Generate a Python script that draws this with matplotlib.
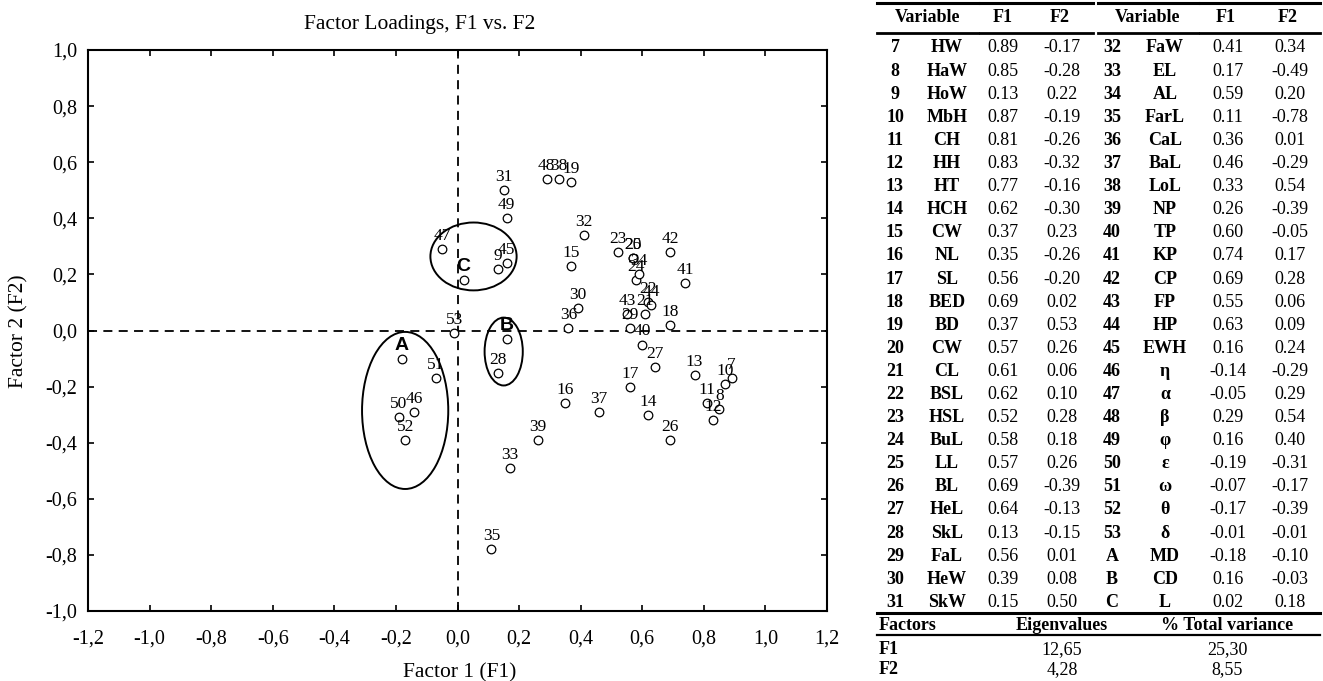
import matplotlib
matplotlib.use('Agg')
import matplotlib.pyplot as plt
from matplotlib.patches import Ellipse
from matplotlib.lines import Line2D

plt.rcParams['font.family'] = ['Liberation Serif', 'DejaVu Serif']

# loadings table, left block (7..31) and right block (32..53, A, B, C)
left_ids = ['7', '8', '9', '10', '11', '12', '13', '14', '15', '16', '17', '18', '19',
            '20', '21', '22', '23', '24', '25', '26', '27', '28', '29', '30', '31']
left_names = ['HW', 'HaW', 'HoW', 'MbH', 'CH', 'HH', 'HT', 'HCH', 'CW', 'NL', 'SL', 'BED', 'BD',
              'CW', 'CL', 'BSL', 'HSL', 'BuL', 'LL', 'BL', 'HeL', 'SkL', 'FaL', 'HeW', 'SkW']
left_f1 = [0.89, 0.85, 0.13, 0.87, 0.81, 0.83, 0.77, 0.62, 0.37, 0.35, 0.56, 0.69, 0.37,
           0.57, 0.61, 0.62, 0.52, 0.58, 0.57, 0.69, 0.64, 0.13, 0.56, 0.39, 0.15]
left_f2 = [-0.17, -0.28, 0.22, -0.19, -0.26, -0.32, -0.16, -0.30, 0.23, -0.26, -0.20, 0.02, 0.53,
           0.26, 0.06, 0.10, 0.28, 0.18, 0.26, -0.39, -0.13, -0.15, 0.01, 0.08, 0.50]

right_ids = ['32', '33', '34', '35', '36', '37', '38', '39', '40', '41', '42', '43', '44',
             '45', '46', '47', '48', '49', '50', '51', '52', '53', 'A', 'B', 'C']
right_names = ['FaW', 'EL', 'AL', 'FarL', 'CaL', 'BaL', 'LoL', 'NP', 'TP', 'KP', 'CP', 'FP', 'HP',
               'EWH', 'η', 'α', 'β', 'φ', 'ε', 'ω', 'θ', 'δ', 'MD', 'CD', 'L']
right_f1 = [0.41, 0.17, 0.59, 0.11, 0.36, 0.46, 0.33, 0.26, 0.60, 0.74, 0.69, 0.55, 0.63,
            0.16, -0.14, -0.05, 0.29, 0.16, -0.19, -0.07, -0.17, -0.01, -0.18, 0.16, 0.02]
right_f2 = [0.34, -0.49, 0.20, -0.78, 0.01, -0.29, 0.54, -0.39, -0.05, 0.17, 0.28, 0.06, 0.09,
            0.24, -0.29, 0.29, 0.54, 0.40, -0.31, -0.17, -0.39, -0.01, -0.10, -0.03, 0.18]

factors = ['F1', 'F2']
eigenvalues = [12.65, 4.28]
total_variance = [25.30, 8.55]

# groups circled on the plot: centre (F1, F2), width, height
group_ids = ['A', 'B', 'C']
group_centres = [(-0.17, -0.285), (0.15, -0.075), (0.052, 0.264)]
group_sizes = [(0.28, 0.56), (0.124, 0.242), (0.28, 0.242)]

W, H = 1323, 681
fig = plt.figure(figsize=(W / 100, H / 100), dpi=100)
ax = fig.add_axes([88 / W, 1 - 611 / H, (827 - 88) / W, (611 - 50) / H])

all_ids = left_ids + right_ids
all_f1 = left_f1 + right_f1
all_f2 = left_f2 + right_f2

ax.axhline(0, color='black', lw=1.3, ls=(0, (5, 3.5)), zorder=1)
ax.axvline(0, color='black', lw=1.3, ls=(0, (5, 3.5)), zorder=1)

ax.plot(all_f1, all_f2, 'o', ms=6.2, mfc='white', mec='black', mew=0.9, zorder=3)
for lab, x, y in zip(all_ids, all_f1, all_f2):
    if lab in group_ids:
        ax.annotate(lab, (x, y), xytext=(0, 6.5), textcoords='offset points',
                    ha='center', va='baseline', fontsize=14, fontweight='bold',
                    family=['Liberation Sans', 'DejaVu Sans'])
    else:
        ax.annotate(lab, (x, y), xytext=(0, 6.5), textcoords='offset points',
                    ha='center', va='baseline', fontsize=12.5)

for (cx, cy), (w, h) in zip(group_centres, group_sizes):
    ax.add_patch(Ellipse((cx, cy), w, h, fill=False, ec='black', lw=1.4, zorder=2))

ax.set_xlim(-1.2, 1.2)
ax.set_ylim(-1.0, 1.0)
xt = [-1.2 + 0.2 * i for i in range(13)]
yt = [-1.0 + 0.2 * i for i in range(11)]
ax.set_xticks(xt)
ax.set_yticks(yt)
ax.set_xticklabels([f'{v:.1f}'.replace('.', ',').replace('-0,0', '0,0') for v in xt])
ax.set_yticklabels([f'{v:.1f}'.replace('.', ',').replace('-0,0', '0,0') for v in yt])
ax.tick_params(direction='in', top=True, right=True, length=4, width=1.2, labelsize=14.5)
ax.tick_params(axis='x', pad=13)
ax.tick_params(axis='y', pad=8)
for s in ax.spines.values():
    s.set_linewidth(1.5)

fig.text(420 / W, 1 - 25 / H, 'Factor Loadings, F1 vs. F2', ha='center', va='center', fontsize=15.5)
fig.text(460 / W, 1 - 673 / H, 'Factor 1 (F1)', ha='center', va='center', fontsize=15.5)
fig.text(19 / W, 1 - 331 / H, 'Factor 2 (F2)', ha='center', va='center', fontsize=15.5, rotation=90)


# ---- table on the right ----
def px(x, y):
    return x / W, 1 - y / H


def hline(x0, x1, y, lw):
    fig.add_artist(Line2D([x0 / W, x1 / W], [1 - y / H, 1 - y / H], color='black', lw=lw,
                          transform=fig.transFigure))


segs = [(877, 978), (980, 1093), (1098, 1198), (1200, 1320)]
for a, b in segs:
    hline(a, b, 3, 2.2)
    hline(a, b, 33, 2.0)
hline(877, 1320, 613, 2.2)
hline(877, 1320, 635, 1.6)

fs = 13
head_y = 18
for x, t in [(928, 'Variable'), (1003, 'F1'), (1060, 'F2'), (1148, 'Variable'), (1226, 'F1'), (1288, 'F2')]:
    fig.text(*px(x, head_y), t, ha='center', va='center', fontsize=fs, fontweight='bold')

row0, pitch = 48, 23.1
cols_left = (895, 947, 1003, 1062)
cols_right = (1112, 1165, 1228, 1290)
for block, cols in [((left_ids, left_names, left_f1, left_f2), cols_left),
                    ((right_ids, right_names, right_f1, right_f2), cols_right)]:
    for i, (n, name, a, b) in enumerate(zip(*block)):
        y = row0 + i * pitch
        fig.text(*px(cols[0], y), n, ha='center', va='center', fontsize=fs, fontweight='bold')
        fig.text(*px(cols[1], y), name, ha='center', va='center', fontsize=fs, fontweight='bold')
        fig.text(*px(cols[2], y), f'{a:.2f}', ha='center', va='center', fontsize=fs)
        fig.text(*px(cols[3], y), f'{b:.2f}', ha='center', va='center', fontsize=fs)

fig.text(*px(879, 625), 'Factors', ha='left', va='center', fontsize=fs, fontweight='bold')
fig.text(*px(1062, 625), 'Eigenvalues', ha='center', va='center', fontsize=fs, fontweight='bold')
fig.text(*px(1227, 625), '% Total variance', ha='center', va='center', fontsize=fs, fontweight='bold')
for i, (f, e, v) in enumerate(zip(factors, eigenvalues, total_variance)):
    y = 650 + i * 20
    fig.text(*px(879, y), f, ha='left', va='center', fontsize=fs, fontweight='bold')
    fig.text(*px(1062, y), f'{e:.2f}'.replace('.', ','), ha='center', va='center', fontsize=fs)
    fig.text(*px(1227, y), f'{v:.2f}'.replace('.', ','), ha='center', va='center', fontsize=fs)

fig.savefig('out.png', dpi=100, facecolor='white')
